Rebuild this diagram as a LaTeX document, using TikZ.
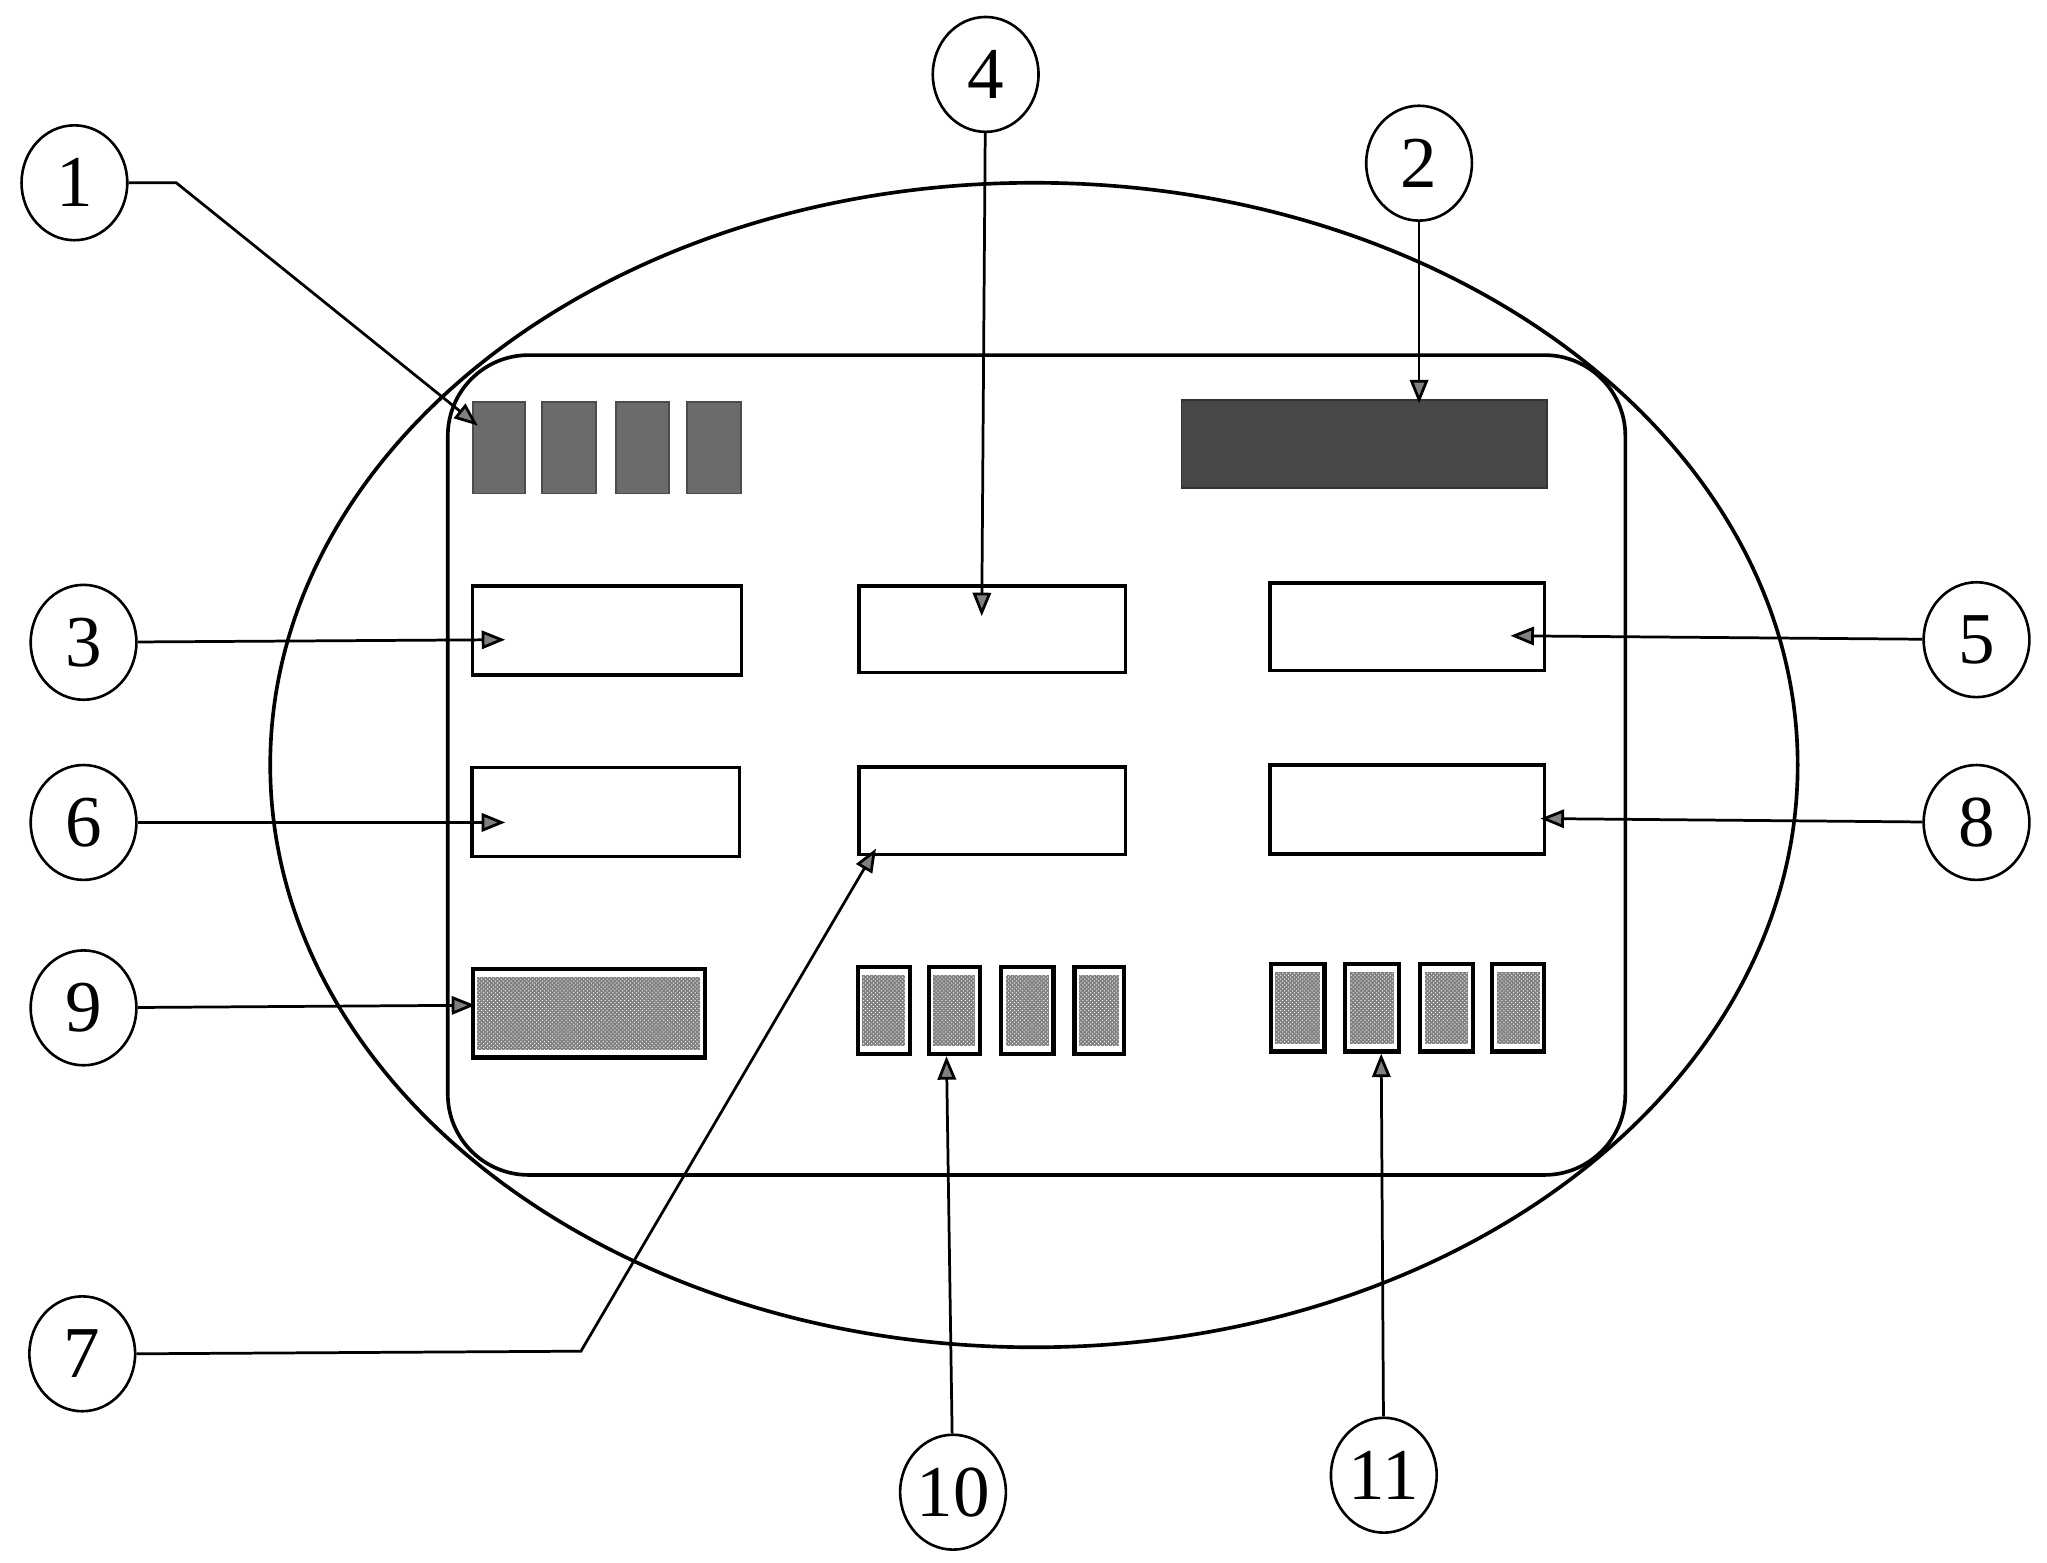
\documentclass[tikz,border=0pt]{standalone}
\usepackage{fontspec}
\setmainfont{Liberation Serif}
\usetikzlibrary{shapes.geometric,arrows.meta,patterns,calc}
\begin{document}
\begin{tikzpicture}[x=1pt,y=-1pt,
  lbl/.style={draw,ellipse,line width=2pt,minimum width=81pt,minimum height=88pt,inner sep=0pt,font=\fontsize{56}{60}\selectfont},
  plainbox/.style={draw,rectangle,line width=2.8pt,inner sep=0pt},
  darkbox/.style={draw=black!70,rectangle,line width=1.5pt,fill=black!58,inner sep=0pt},
  darkerbox/.style={draw=black!80,rectangle,line width=1.5pt,fill=black!72,inner sep=0pt},
  speckbox/.style={draw,rectangle,line width=3.2pt,fill=white,inner sep=0pt,
     path picture={
       \fill[black!50] ([xshift=3.5pt,yshift=6pt]path picture bounding box.south west)
            rectangle ([xshift=-3.5pt,yshift=-6pt]path picture bounding box.north east);
       \fill[pattern=crosshatch dots,pattern color=white] ([xshift=3.5pt,yshift=6pt]path picture bounding box.south west)
            rectangle ([xshift=-3.5pt,yshift=-6pt]path picture bounding box.north east);}},
  conn/.style={line width=2.1pt,-{Triangle[length=18pt,width=14pt,fill=black!50]}}
]
\useasboundingbox (0,0) rectangle (1568,1197);
% outer ellipse and rounded frame
\draw[line width=2.8pt] (792,586) ellipse [x radius=585, y radius=446];
\draw[line width=2.8pt,rounded corners=62pt] (343,272) rectangle (1245,900);

% top-left four dark boxes (1)
\node[darkbox,minimum width=40pt,minimum height=70pt] (a1) at (382,343) {};
\node[darkbox,minimum width=41pt,minimum height=70pt] (a2) at (436,343) {};
\node[darkbox,minimum width=41pt,minimum height=70pt] (a3) at (492,343) {};
\node[darkbox,minimum width=41pt,minimum height=70pt] (a4) at (547,343) {};
% top-right dark box (2)
\node[darkerbox,minimum width=280pt,minimum height=67pt] (b2) at (1045,340) {};

% plain boxes
\node[plainbox,minimum width=206pt,minimum height=68pt] (r3) at (465,483) {};
\node[plainbox,minimum width=204pt,minimum height=66pt] (r4) at (760,482) {};
\node[plainbox,minimum width=210pt,minimum height=67pt] (r5) at (1078,480) {};
\node[plainbox,minimum width=205pt,minimum height=68pt] (r6) at (464,622) {};
\node[plainbox,minimum width=204pt,minimum height=67pt] (r7) at (760,621) {};
\node[plainbox,minimum width=210pt,minimum height=68pt] (r8) at (1078,620) {};

% speckled boxes
\node[speckbox,minimum width=178pt,minimum height=68pt] (s9) at (451,776) {};
\node[speckbox,minimum width=40pt,minimum height=67pt] (s10a) at (677,774) {};
\node[speckbox,minimum width=39pt,minimum height=67pt] (s10b) at (731,774) {};
\node[speckbox,minimum width=40pt,minimum height=67pt] (s10c) at (787,774) {};
\node[speckbox,minimum width=38pt,minimum height=67pt] (s10d) at (842,774) {};
\node[speckbox,minimum width=41pt,minimum height=67pt] (s11a) at (994,772) {};
\node[speckbox,minimum width=41pt,minimum height=67pt] (s11b) at (1051,772) {};
\node[speckbox,minimum width=40pt,minimum height=67pt] (s11c) at (1108,772) {};
\node[speckbox,minimum width=40pt,minimum height=67pt] (s11d) at (1163,772) {};

% label circles
\node[lbl] (c1) at (57,140) {1};
\node[lbl] (c2) at (1087,125) {2};
\node[lbl] (c3) at (64,492) {3};
\node[lbl] (c4) at (755,57) {4};
\node[lbl] (c5) at (1514,490) {5};
\node[lbl] (c6) at (64,630) {6};
\node[lbl] (c7) at (63,1037) {7};
\node[lbl] (c8) at (1514,630) {8};
\node[lbl] (c9) at (64,772) {9};
\node[lbl] (c10) at (730,1143) {10};
\node[lbl] (c11) at (1060,1130) {11};

% arrow tips / bends
\coordinate (b1) at (135,140);
\coordinate (t1) at (366,326);
\coordinate (t2) at (1087,309);
\coordinate (t3) at (387,490);
\coordinate (t4) at (752,472);
\coordinate (t5) at (1157,487);
\coordinate (t6) at (387,630);
\coordinate (b7) at (445,1035);
\coordinate (t7) at (671,650);
\coordinate (t8) at (1180,627);
\coordinate (t9) at (364,770);
\coordinate (t10) at (725,809);
\coordinate (t11) at (1058,807);

% connectors
\draw[conn] (c1.east) -- (b1) -- (t1);
\draw[conn] (c2) -- (t2);
\draw[conn] (c3) -- (t3);
\draw[conn] (c4) -- (t4);
\draw[conn] (c5) -- (t5);
\draw[conn] (c6) -- (t6);
\draw[conn] (c7.east) -- (b7) -- (t7);
\draw[conn] (c8) -- (t8);
\draw[conn] (c9) -- (t9);
\draw[conn] (c10) -- (t10);
\draw[conn] (c11) -- (t11);
\end{tikzpicture}
\end{document}
